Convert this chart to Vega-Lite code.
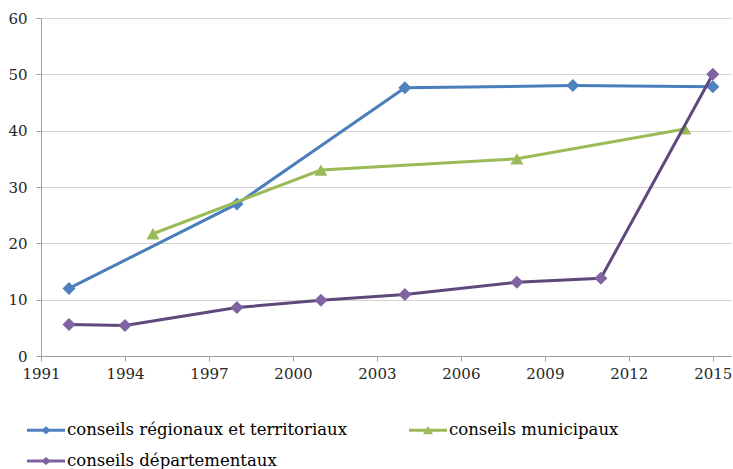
{
  "$schema": "https://vega.github.io/schema/vega-lite/v6.json",
  "width": 690,
  "height": 338,
  "autosize": {"type": "none"},
  "padding": {"left": 41, "top": 18, "right": 2, "bottom": 113},
  "background": "white",
  "config": {
    "view": {"stroke": null},
    "axis": {"labelFont": "DejaVu Serif", "labelFontSize": 15, "labelColor": "#262626", "domainColor": "#a0a0a0", "tickColor": "#a0a0a0", "tickSize": 5, "title": null}
  },
  "data": {"values": [
    {"series": "conseils régionaux et territoriaux", "year": 1992, "value": 12.0},
    {"series": "conseils régionaux et territoriaux", "year": 1998, "value": 27.0},
    {"series": "conseils régionaux et territoriaux", "year": 2004, "value": 47.6},
    {"series": "conseils régionaux et territoriaux", "year": 2010, "value": 48.0},
    {"series": "conseils régionaux et territoriaux", "year": 2015, "value": 47.8},
    {"series": "conseils municipaux", "year": 1995, "value": 21.7},
    {"series": "conseils municipaux", "year": 2001, "value": 33.0},
    {"series": "conseils municipaux", "year": 2008, "value": 35.0},
    {"series": "conseils municipaux", "year": 2014, "value": 40.3},
    {"series": "conseils départementaux", "year": 1992, "value": 5.6},
    {"series": "conseils départementaux", "year": 1994, "value": 5.4},
    {"series": "conseils départementaux", "year": 1998, "value": 8.6},
    {"series": "conseils départementaux", "year": 2001, "value": 9.9},
    {"series": "conseils départementaux", "year": 2004, "value": 10.9},
    {"series": "conseils départementaux", "year": 2008, "value": 13.1},
    {"series": "conseils départementaux", "year": 2011, "value": 13.8},
    {"series": "conseils départementaux", "year": 2015, "value": 50.0}
  ]},
  "encoding": {
    "x": {"field": "year", "type": "quantitative",
      "scale": {"domain": [1991, 2015.65], "nice": false, "zero": false},
      "axis": {"values": [1991, 1994, 1997, 2000, 2003, 2006, 2009, 2012, 2015], "format": "d", "grid": false, "labelFlush": false, "labelPadding": 5}},
    "y": {"field": "value", "type": "quantitative",
      "scale": {"domain": [0, 60], "nice": false},
      "axis": {"values": [0, 10, 20, 30, 40, 50, 60], "grid": true, "gridColor": "#d4d4d4", "labelPadding": 9}}
  },
  "layer": [
    {"transform": [{"filter": "datum.series === 'conseils régionaux et territoriaux'"}],
     "mark": {"type": "line", "stroke": "#4A7EBB", "strokeWidth": 3}},
    {"transform": [{"filter": "datum.series === 'conseils régionaux et territoriaux'"}],
     "mark": {"type": "point", "filled": true, "opacity": 1, "size": 170, "shape": "diamond"},
     "encoding": {"color": {"field": "series", "type": "nominal", "scale": {"domain": ["conseils régionaux et territoriaux", "conseils municipaux", "conseils départementaux"], "range": ["#4F81BD", "#9BBB59", "#8064A2"]}}}},
    {"transform": [{"filter": "datum.series === 'conseils municipaux'"}],
     "mark": {"type": "line", "stroke": "#9BBB59", "strokeWidth": 3}},
    {"transform": [{"filter": "datum.series === 'conseils municipaux'"}],
     "mark": {"type": "point", "filled": true, "opacity": 1, "size": 170, "shape": "triangle-up"},
     "encoding": {"color": {"field": "series", "type": "nominal"}}},
    {"transform": [{"filter": "datum.series === 'conseils départementaux'"}],
     "mark": {"type": "line", "stroke": "#5F497A", "strokeWidth": 3}},
    {"transform": [{"filter": "datum.series === 'conseils départementaux'"}],
     "mark": {"type": "point", "filled": true, "opacity": 1, "size": 170, "shape": "diamond"},
     "encoding": {"color": {"field": "series", "type": "nominal"}}},
    {"transform": [{"filter": "false"}],
     "mark": {"type": "point", "filled": true, "opacity": 1},
     "encoding": {
       "color": {"field": "series", "type": "nominal", "legend": {
         "orient": "none", "legendX": -9, "legendY": 398, "direction": "horizontal", "columns": 2, "gridAlign": "all", "columnPadding": 61, "rowPadding": 8, "padding": 0, "title": null,
         "symbolSize": 784, "symbolStrokeWidth": 0, "labelFont": "DejaVu Serif", "labelFontSize": 16.5, "labelColor": "#000", "labelOffset": 7, "labelLimit": 500}},
       "shape": {"field": "series", "type": "nominal",
         "scale": {"domain": ["conseils régionaux et territoriaux", "conseils municipaux", "conseils départementaux"],
           "range": ["M-1.36,-0.1H1.36V0.1H-1.36Z M0,-0.29L0.36,0L0,0.29L-0.36,0Z", "M-1.36,-0.1H1.36V0.1H-1.36Z M0,-0.3L0.36,0.28L-0.36,0.28Z", "M-1.36,-0.1H1.36V0.1H-1.36Z M0,-0.29L0.36,0L0,0.29L-0.36,0Z"]},
         "legend": {
         "orient": "none", "legendX": -9, "legendY": 398, "direction": "horizontal", "columns": 2, "gridAlign": "all", "columnPadding": 61, "rowPadding": 8, "padding": 0, "title": null,
         "symbolSize": 784, "symbolStrokeWidth": 0, "labelFont": "DejaVu Serif", "labelFontSize": 16.5, "labelColor": "#000", "labelOffset": 7, "labelLimit": 500}}
     }}
  ]
}
